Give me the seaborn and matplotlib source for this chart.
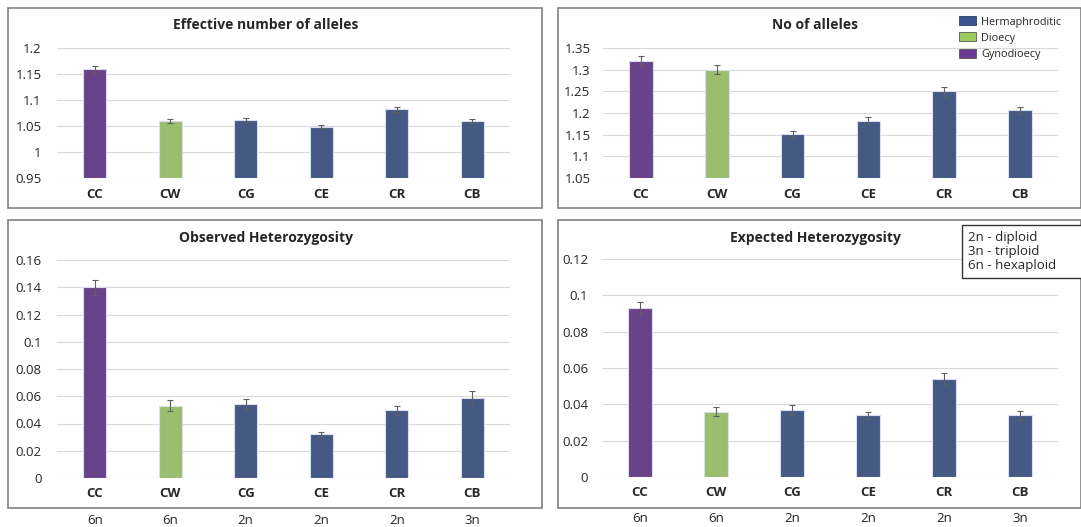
import numpy as np
import pandas as pd
import seaborn as sns
import matplotlib.pyplot as plt
from matplotlib.patches import Rectangle, Patch

# Data
sites = ["CC", "CW", "CG", "CE", "CR", "CB"]
ploidy = ["6n", "6n", "2n", "2n", "2n", "3n"]
system = ["Gynodioecy", "Dioecy", "Hermaphroditic", "Hermaphroditic", "Hermaphroditic", "Hermaphroditic"]

eff_alleles = [1.159, 1.060, 1.061, 1.049, 1.082, 1.060]
eff_alleles_err = [0.007, 0.004, 0.005, 0.003, 0.005, 0.004]

n_alleles = [1.321, 1.300, 1.152, 1.182, 1.250, 1.206]
n_alleles_err = [0.010, 0.010, 0.007, 0.008, 0.010, 0.009]

obs_het = [0.140, 0.053, 0.054, 0.032, 0.050, 0.059]
obs_het_err = [0.0055, 0.004, 0.004, 0.002, 0.0027, 0.005]

exp_het = [0.093, 0.036, 0.037, 0.034, 0.054, 0.034]
exp_het_err = [0.0035, 0.0025, 0.0025, 0.002, 0.003, 0.0025]

colors = {"Hermaphroditic": "#3A5590", "Dioecy": "#9DCB61", "Gynodioecy": "#6A3795"}

sns.set_style("white")
plt.rcParams['font.family'] = ['Open Sans', 'DejaVu Sans']

W, H = 1081, 527
fig = plt.figure(figsize=(W / 100, H / 100), dpi=100)


def px_axes(l, t, r, b):
    return fig.add_axes([l / W, 1 - b / H, (r - l) / W, (b - t) / H])


def frame(l, t, r, b):
    fig.add_artist(Rectangle((l / W, 1 - b / H), (r - l) / W, (b - t) / H,
                             transform=fig.transFigure, fill=False,
                             edgecolor="#808080", linewidth=1.2))


def panel(pos, vals, errs, ylim, step, title, title_xy, ypad, xpad):
    ax = px_axes(*pos)
    df = pd.DataFrame({"site": sites, "val": vals, "sys": system})
    sns.barplot(data=df, x="site", y="val", hue="sys", palette=colors,
                width=0.31, dodge=False, legend=False, ax=ax,
                edgecolor="#d8def0", linewidth=0.8)
    ax.errorbar(np.arange(len(sites)), vals, yerr=errs, fmt="none",
                ecolor="#606060", elinewidth=0.8, capsize=2.5, capthick=0.8)
    ax.set_ylim(*ylim)
    ax.set_xlim(-0.5, len(sites) - 0.5)
    ticks = np.arange(ylim[0], ylim[1] + step / 2, step)
    ax.set_yticks(ticks)
    ax.set_yticklabels([f"{t:.2f}".rstrip("0").rstrip(".") if t != 0 else "0" for t in ticks])
    ax.yaxis.grid(True, color="#d9d9d9", linewidth=0.8)
    ax.set_axisbelow(True)
    for s in ax.spines.values():
        s.set_visible(False)
    ax.tick_params(axis="y", length=0, pad=ypad, labelsize=9.5, labelcolor="#262626")
    ax.tick_params(axis="x", length=0, pad=xpad, labelsize=9.5)
    for lab in ax.get_xticklabels():
        lab.set_fontweight("bold")
    ax.set_xlabel("")
    ax.set_ylabel("")
    fig.text(title_xy[0] / W, 1 - title_xy[1] / H, title, ha="center", va="center",
             fontsize=10, fontweight="bold")
    return ax


# frames
frame(8, 8, 542, 208)
frame(558, 8, 1081, 208)
frame(8, 220, 542, 508)
frame(558, 220, 1081, 508)

panel((57, 48, 510, 178), eff_alleles, eff_alleles_err, (0.95, 1.2), 0.05,
      "Effective number of alleles", (266, 25), 11, 7.5)
panel((603, 48, 1058, 178), n_alleles, n_alleles_err, (1.05, 1.35), 0.05,
      "No of alleles", (815, 25), 9, 7.5)
ax_ho = panel((57, 260, 510, 478), obs_het, obs_het_err, (0, 0.16), 0.02,
              "Observed Heterozygosity", (266, 238), 11, 6.5)
ax_he = panel((602, 259, 1058, 477), exp_het, exp_het_err, (0, 0.12), 0.02,
              "Expected Heterozygosity", (815, 238), 10, 6.5)

# ploidy labels below the bottom panels
for ax in (ax_ho, ax_he):
    for i, p in enumerate(ploidy):
        ax.annotate(p, xy=(i, 0), xycoords=("data", "axes fraction"),
                    xytext=(0, -42), textcoords="offset pixels",
                    ha="center", va="center", fontsize=9.5)

# breeding system legend
handles = [Patch(facecolor=colors[k], edgecolor="#2b3f6b" if k == "Hermaphroditic" else "#555555",
                 linewidth=0.6, label=k) for k in ["Hermaphroditic", "Dioecy", "Gynodioecy"]]
fig.legend(handles=handles, loc="upper left", bbox_to_anchor=(955 / W, 1 - 12 / H),
           frameon=False, fontsize=7.8, handlelength=1.5, handleheight=0.9,
           handletextpad=0.5, labelspacing=0.45, borderaxespad=0)

# ploidy key box
fig.add_artist(Rectangle((962 / W, 1 - 278 / H), 125 / W, 53 / H,
                         transform=fig.transFigure, facecolor="white",
                         edgecolor="#333333", linewidth=1))
fig.text(968 / W, 1 - 251 / H, "2n - diploid\n3n - triploid\n6n - hexaploid",
         ha="left", va="center", fontsize=9.5, linespacing=1.1)

fig.savefig("out.png", dpi=100)
